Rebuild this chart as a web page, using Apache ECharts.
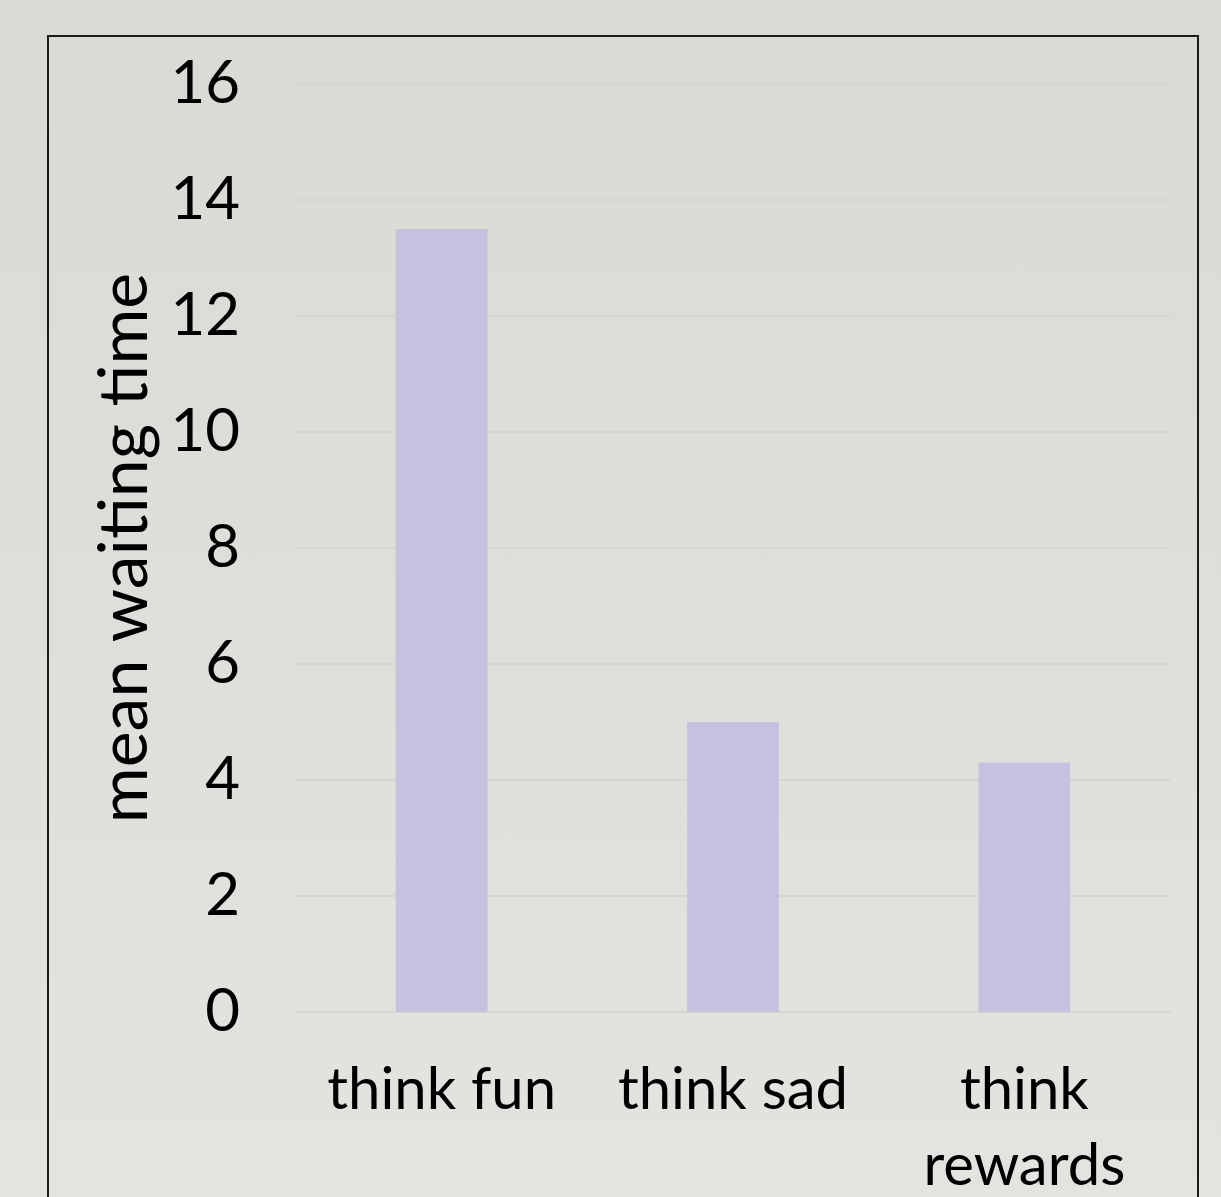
<!DOCTYPE html>
<html>
<head>
<meta charset="utf-8">
<script src="https://cdn.jsdelivr.net/npm/echarts@6/dist/echarts.min.js"></script>
<style>
  html, body { margin: 0; padding: 0; }
  body { background: linear-gradient(#dbd9d4, #e4e3df); }
  #chart { width: 1221px; height: 1197px; }
</style>
</head>
<body>
<div id="chart"></div>
<script>
// ── Data ──────────────────────────────────────────────────────────────────────
const categories = ['think fun', 'think sad', 'think\nrewards'];
const waitTimes  = [13.5, 5.0, 4.3];
const yTicks     = { min: 0, max: 16, interval: 2 };

const FONT = 'Lato, "Open Sans", sans-serif';

const chart = echarts.init(document.getElementById('chart'), null, { renderer: 'canvas' });

chart.setOption({
  backgroundColor: 'transparent',
  animation: false,
  grid: { left: 296, right: 51, top: 84, bottom: 185, outerBoundsMode: 'none', containLabel: false },
  // frame around the plot (runs off the bottom of the picture)
  graphic: [{
    type: 'rect',
    shape: { x: 48, y: 36, width: 1150, height: 1200 },
    style: { fill: 'none', stroke: '#1a1a1a', lineWidth: 2 },
    silent: true
  }],
  xAxis: {
    type: 'category',
    data: categories,
    axisLine: { show: true, lineStyle: { color: '#d7d5d1', width: 2 } },
    axisTick: { show: false },
    axisLabel: {
      color: '#000', fontFamily: FONT, fontSize: 58,
      lineHeight: 76, margin: 40, interval: 0
    }
  },
  yAxis: {
    type: 'value',
    min: yTicks.min, max: yTicks.max, interval: yTicks.interval,
    name: 'mean waiting time',
    nameLocation: 'middle',
    nameGap: 137,
    nameTextStyle: { color: '#000', fontFamily: FONT, fontSize: 68 },
    axisLine: { show: false },
    axisTick: { show: false },
    axisLabel: { color: '#000', fontFamily: FONT, fontSize: 60, margin: 56 },
    splitLine: { lineStyle: { color: '#d7d5d1', width: 2 } }
  },
  series: [{
    type: 'bar',
    data: waitTimes,
    barWidth: '31.5%',
    itemStyle: { color: '#c8c0df' }
  }]
});
</script>
</body>
</html>
